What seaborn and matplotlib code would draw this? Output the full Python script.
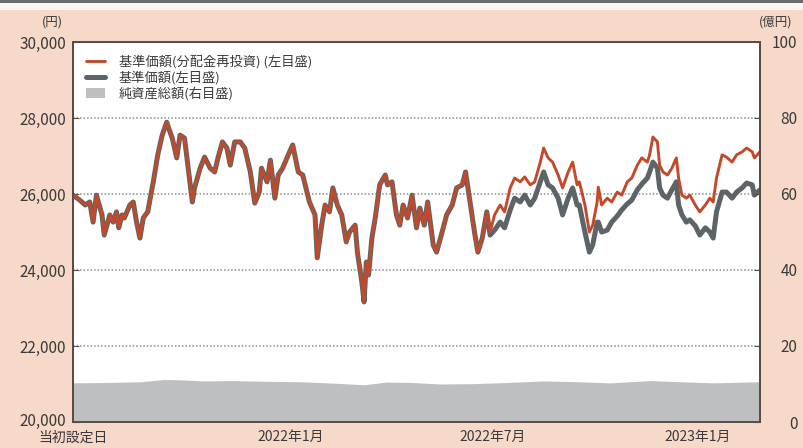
import pandas as pd
import numpy as np
import matplotlib
matplotlib.use("Agg")
import matplotlib.pyplot as plt
import matplotlib.transforms as mtransforms
from matplotlib.lines import Line2D
from matplotlib.patches import Patch, Rectangle
import seaborn as sns

# base price with reinvested distributions (yen, left axis)
dates = [
    "2021-06-20", "2021-06-26", "2021-07-01", "2021-07-05", "2021-07-08", "2021-07-11",
    "2021-07-16", "2021-07-18", "2021-07-23", "2021-07-26", "2021-07-29", "2021-07-31",
    "2021-08-03", "2021-08-05", "2021-08-10", "2021-08-13", "2021-08-16", "2021-08-19",
    "2021-08-22", "2021-08-26", "2021-08-31", "2021-09-04", "2021-09-08", "2021-09-12",
    "2021-09-15", "2021-09-17", "2021-09-21", "2021-09-24", "2021-09-28", "2021-10-01",
    "2021-10-05", "2021-10-07", "2021-10-12", "2021-10-16", "2021-10-21", "2021-10-25",
    "2021-10-28", "2021-11-01", "2021-11-05", "2021-11-08", "2021-11-12", "2021-11-17",
    "2021-11-21", "2021-11-26", "2021-11-30", "2021-12-04", "2021-12-06", "2021-12-11",
    "2021-12-14", "2021-12-18", "2021-12-21", "2021-12-25", "2021-12-30", "2022-01-03",
    "2022-01-08", "2022-01-12", "2022-01-18", "2022-01-23", "2022-01-25", "2022-01-29",
    "2022-02-01", "2022-02-05", "2022-02-08", "2022-02-12", "2022-02-16", "2022-02-20",
    "2022-02-23", "2022-02-28", "2022-03-02", "2022-03-06", "2022-03-08", "2022-03-10",
    "2022-03-12", "2022-03-15", "2022-03-18", "2022-03-22", "2022-03-27", "2022-03-29",
    "2022-04-02", "2022-04-06", "2022-04-09", "2022-04-12", "2022-04-16", "2022-04-20",
    "2022-04-24", "2022-04-27", "2022-05-01", "2022-05-04", "2022-05-09", "2022-05-12",
    "2022-05-17", "2022-05-21", "2022-05-26", "2022-05-30", "2022-06-04", "2022-06-07",
    "2022-06-11", "2022-06-15", "2022-06-18", "2022-06-22", "2022-06-26", "2022-06-29",
    "2022-07-03", "2022-07-08", "2022-07-12", "2022-07-17", "2022-07-21", "2022-07-26",
    "2022-07-30", "2022-08-04", "2022-08-08", "2022-08-13", "2022-08-16", "2022-08-20",
    "2022-08-24", "2022-08-29", "2022-09-02", "2022-09-07", "2022-09-11", "2022-09-15",
    "2022-09-17", "2022-09-22", "2022-09-26", "2022-09-29", "2022-10-03", "2022-10-04",
    "2022-10-07", "2022-10-12", "2022-10-16", "2022-10-21", "2022-10-25", "2022-10-30",
    "2022-11-03", "2022-11-08", "2022-11-12", "2022-11-17", "2022-11-19", "2022-11-22",
    "2022-11-26", "2022-11-28", "2022-12-01", "2022-12-05", "2022-12-09", "2022-12-13",
    "2022-12-15", "2022-12-18", "2022-12-22", "2022-12-25", "2022-12-30", "2023-01-03",
    "2023-01-08", "2023-01-12", "2023-01-15", "2023-01-18", "2023-01-23", "2023-01-27",
    "2023-02-01", "2023-02-05", "2023-02-10", "2023-02-14", "2023-02-19", "2023-02-21",
    "2023-02-26",
]
nav_reinvest = [
    25970, 25840, 25710, 25790, 25260, 25970,
    25450, 24920, 25450, 25260, 25530, 25110,
    25450, 25370, 25710, 25790, 25260, 24840,
    25370, 25530, 26320, 27030, 27550, 27890,
    27630, 27470, 26950, 27550, 27470, 26760,
    25790, 26160, 26680, 26970, 26680, 26580,
    26950, 27370, 27210, 26760, 27370, 27370,
    27210, 26580, 25760, 26050, 26680, 26320,
    26890, 25890, 26500, 26680, 27030, 27290,
    26580, 26500, 25790, 25450, 24320, 25180,
    25710, 25530, 26160, 25710, 25450, 24740,
    25000, 25180, 24470, 23680, 23160, 24210,
    23870, 24840, 25370, 26240, 26500, 26240,
    26320, 25450, 25180, 25710, 25370, 25970,
    25110, 25630, 25180, 25790, 24660, 24470,
    25000, 25450, 25710, 26160, 26240, 26580,
    25790, 25000, 24470, 24840, 25530, 25000,
    25450, 25710, 25530, 26160, 26420, 26320,
    26450, 26240, 26320, 26840, 27210, 26950,
    26840, 26500, 26160, 26580, 26840, 26240,
    26320, 25710, 25000, 25180, 25790, 26180,
    25710, 25890, 25790, 26050, 25970, 26320,
    26420, 26760, 26950, 26840, 27030, 27500,
    27370, 26760, 26580, 26500, 26680, 26950,
    26420, 25970, 25890, 25970, 25710, 25530,
    25710, 25890, 25790, 26420, 27030, 26970,
    26840, 27030, 27110, 27210, 27110, 26950,
    27110,
]
# base price (yen, left axis)
nav = [
    25970, 25840, 25710, 25790, 25260, 25970,
    25450, 24920, 25450, 25260, 25530, 25110,
    25450, 25370, 25710, 25790, 25260, 24840,
    25370, 25530, 26320, 27030, 27550, 27890,
    27630, 27470, 26950, 27550, 27470, 26760,
    25790, 26160, 26680, 26970, 26680, 26580,
    26950, 27370, 27210, 26760, 27370, 27370,
    27210, 26580, 25760, 26050, 26680, 26320,
    26890, 25890, 26500, 26680, 27030, 27290,
    26580, 26500, 25790, 25450, 24320, 25180,
    25710, 25530, 26160, 25710, 25450, 24740,
    25000, 25180, 24470, 23680, 23160, 24210,
    23870, 24840, 25370, 26240, 26500, 26240,
    26320, 25450, 25180, 25710, 25370, 25970,
    25110, 25630, 25180, 25790, 24660, 24470,
    25000, 25450, 25710, 26160, 26240, 26580,
    25790, 25000, 24470, 24840, 25530, 24920,
    25050, 25260, 25110, 25580, 25890, 25790,
    25970, 25710, 25890, 26320, 26580, 26240,
    26160, 25890, 25450, 25890, 26160, 25710,
    25710, 25000, 24470, 24660, 25260, 25260,
    25000, 25050, 25260, 25420, 25580, 25740,
    25840, 26110, 26260, 26420, 26580, 26840,
    26680, 26160, 25970, 25890, 26110, 26320,
    25710, 25450, 25260, 25320, 25160, 24920,
    25110, 25000, 24840, 25530, 26050, 26050,
    25890, 26050, 26160, 26290, 26240, 25970,
    26110,
]

# net assets (100 million yen, right axis)
asset_dates = [
    "2021-06-20", "2021-07-20", "2021-08-20", "2021-09-10", "2021-09-25", "2021-10-15",
    "2021-11-10", "2021-12-10", "2022-01-10", "2022-02-10", "2022-03-08", "2022-03-28",
    "2022-04-20", "2022-05-15", "2022-06-15", "2022-07-15", "2022-08-15", "2022-09-15",
    "2022-10-15", "2022-11-20", "2022-12-15", "2023-01-15", "2023-02-26",
]
net_assets = [
    10.3, 10.4, 10.6, 11.2, 11.1, 10.8,
    10.9, 10.7, 10.6, 10.2, 9.8, 10.5,
    10.4, 10.0, 10.1, 10.4, 10.8, 10.6,
    10.3, 10.9, 10.6, 10.3, 10.6,
]

xtick_dates = ["2021-06-20", "2022-01-01", "2022-07-01", "2023-01-01"]
xtick_labels = ["当初設定日", "2022年1月", "2022年7月", "2023年1月"]
legend_labels = ["基準価額(分配金再投資) (左目盛)", "基準価額(左目盛)", "純資産総額(右目盛)"]

sns.set_style("white")
plt.rcParams['font.family'] = ['Noto Sans CJK JP', 'DejaVu Sans']

bg = "#f6d9c8"
red = "#c24a2b"
grey = "#5d6467"
area = "#bdbfc1"
text_c = "#3a3a3a"
spine_c = "#5a4b44"

df = pd.DataFrame({"date": pd.to_datetime(dates), "reinvest": nav_reinvest, "nav": nav})
df_assets = pd.DataFrame({"date": pd.to_datetime(asset_dates), "assets": net_assets})

fig = plt.figure(figsize=(8.04, 4.48), dpi=100)
fig.patch.set_facecolor(bg)
# top strip
fig.add_artist(Rectangle((0, 1 - 3 / 448), 1, 3 / 448, transform=fig.transFigure, color="#6a6a6a", lw=0))
fig.add_artist(Rectangle((0, 1 - 10 / 448), 1, 7 / 448, transform=fig.transFigure, color="#fbf6f2", lw=0))

ax = fig.add_axes([73 / 804, 26 / 448, 687 / 804, 380 / 448])
ax.set_facecolor("white")

sns.lineplot(data=df, x="date", y="nav", ax=ax, color=grey, lw=3.6, zorder=3)
sns.lineplot(data=df, x="date", y="reinvest", ax=ax, color=red, lw=2.1, zorder=4)

ax.set_ylim(20000, 30000)
ax.set_yticks(range(20000, 30001, 2000))
ax.set_yticklabels([f"{v:,}" for v in range(20000, 30001, 2000)])
ax.set_xlim(pd.Timestamp("2021-06-20"), pd.Timestamp("2023-02-26"))
ax.set_xticks(pd.to_datetime(xtick_dates))
ax.set_xticklabels(xtick_labels)
ax.set_xlabel("")
ax.set_ylabel("")
ax.yaxis.grid(True, color="#8c8c8c", ls=(0, (1, 1.3)), lw=1.1)
ax.xaxis.grid(False)
ax.tick_params(axis="y", direction="in", length=4, color=spine_c, labelcolor=text_c, labelsize=11, pad=5)
ax.tick_params(axis="x", direction="in", length=4, color=spine_c, labelcolor=text_c, labelsize=10, pad=6)

# lift the lowest left label a little so it clears the first date label
low_lab = ax.get_yticklabels()[0]
low_lab.set_transform(low_lab.get_transform() + mtransforms.ScaledTranslation(0, 3 / 100, fig.dpi_scale_trans))

ax2 = ax.twinx()
ax2.fill_between(df_assets["date"], df_assets["assets"], color=area, lw=0)
ax2.set_ylim(0, 100)
ax2.set_yticks(range(0, 101, 20))
ax2.tick_params(axis="y", direction="in", length=4, color=spine_c, labelcolor=text_c, labelsize=11, pad=27)
for lab in ax2.get_yticklabels():
    lab.set_horizontalalignment("right")
ax2.set_ylabel("")

for a in (ax, ax2):
    for s in a.spines.values():
        s.set_color(spine_c)
        s.set_linewidth(1.4)

fig.text(52 / 804, 1 - 22 / 448, "(円)", ha="center", va="center", fontsize=9, color=text_c)
fig.text(776 / 804, 1 - 22 / 448, "(億円)", ha="center", va="center", fontsize=9, color=text_c)

handles = [
    Line2D([], [], color=red, lw=2.1),
    Line2D([], [], color=grey, lw=3.6),
    Patch(facecolor=area, edgecolor="none"),
]
ax2.legend(handles, legend_labels, loc="upper left", bbox_to_anchor=(0.0, 1.0), frameon=False,
           fontsize=9.5, handlelength=1.5, handleheight=0.8, handletextpad=1.0,
           labelspacing=0.18, borderaxespad=0.55, labelcolor=text_c)

fig.savefig("out.png", dpi=100, facecolor=bg)
